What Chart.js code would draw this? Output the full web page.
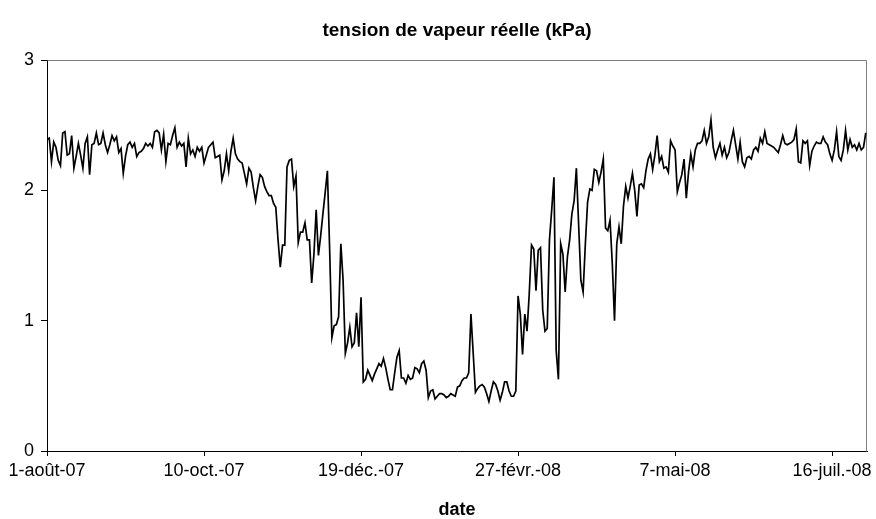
<!DOCTYPE html>
<html>
<head>
<meta charset="utf-8">
<script src="https://cdn.jsdelivr.net/npm/chart.js@4/dist/chart.umd.min.js"></script>
<style>
  html, body { margin: 0; padding: 0; background: #ffffff; }
  #wrap { width: 876px; height: 519px; }
</style>
</head>
<body>
<div id="wrap"><canvas id="c" width="876" height="519"></canvas></div>
<script>
// Daily actual vapour pressure (kPa), 1 Aug 2007 - 31 Jul 2008, one array per month
const aug07 = [2.39,2.40,2.22,2.37,2.33,2.23,2.19,2.44,2.45,2.27,2.28,2.42,2.17,2.26,2.36,2.27,2.17,2.36,2.41,2.12,2.35,2.36,2.44,2.35,2.36,2.44,2.35,2.29,2.35,2.42,2.38];
const sep07 = [2.41,2.29,2.32,2.13,2.26,2.35,2.37,2.33,2.36,2.26,2.29,2.30,2.32,2.36,2.34,2.36,2.33,2.45,2.46,2.44,2.31,2.43,2.22,2.36,2.35,2.42,2.48,2.33,2.37,2.34];
const oct07 = [2.36,2.18,2.40,2.28,2.31,2.26,2.33,2.30,2.33,2.21,2.27,2.33,2.35,2.37,2.25,2.26,2.27,2.08,2.15,2.28,2.15,2.30,2.40,2.28,2.24,2.22,2.21,2.13,2.05,2.17,2.14];
const nov07 = [2.02,1.92,2.03,2.12,2.10,2.03,1.99,1.96,1.96,1.90,1.87,1.62,1.41,1.58,1.58,2.18,2.23,2.24,2.03,2.11,1.60,1.68,1.68,1.75,1.62,1.62,1.29,1.51,1.85,1.50];
const dec07 = [1.65,1.82,1.98,2.15,1.55,0.87,0.96,0.97,1.03,1.59,1.31,0.75,0.83,0.95,0.80,0.83,1.06,0.80,1.18,0.53,0.55,0.62,0.58,0.54,0.59,0.63,0.67,0.65,0.71,0.64,0.55];
const jan08 = [0.47,0.47,0.60,0.72,0.77,0.56,0.56,0.52,0.58,0.55,0.56,0.64,0.63,0.60,0.67,0.69,0.62,0.41,0.46,0.47,0.40,0.42,0.44,0.44,0.43,0.41,0.42,0.44,0.43,0.42,0.49];
const feb08 = [0.50,0.54,0.56,0.56,0.60,1.05,0.75,0.45,0.48,0.50,0.51,0.49,0.44,0.38,0.46,0.53,0.51,0.46,0.39,0.45,0.53,0.53,0.46,0.42,0.42,0.46,1.19,1.05,0.74];
const mar08 = [1.05,0.92,1.21,1.58,1.55,1.23,1.54,1.56,1.08,0.92,0.94,1.62,1.85,2.10,0.77,0.55,1.59,1.51,1.22,1.49,1.62,1.82,1.92,2.17,1.74,1.31,1.22,1.59,1.91,2.01,2.00];
const apr08 = [2.16,2.15,2.06,2.14,2.24,1.71,1.69,1.77,1.44,1.00,1.59,1.72,1.59,1.88,2.03,1.94,2.03,2.13,2.00,1.80,2.04,2.05,2.02,2.15,2.24,2.28,2.16,2.27,2.42,2.22];
const may08 = [2.26,2.17,2.18,2.14,2.38,2.34,2.31,1.99,2.06,2.12,2.24,1.94,2.14,2.28,2.18,2.31,2.36,2.36,2.38,2.46,2.36,2.41,2.54,2.33,2.25,2.31,2.36,2.27,2.33,2.25,2.29];
const jun08 = [2.38,2.46,2.35,2.24,2.37,2.22,2.18,2.25,2.26,2.24,2.31,2.33,2.30,2.40,2.36,2.45,2.36,2.35,2.34,2.33,2.31,2.29,2.35,2.42,2.36,2.35,2.36,2.37,2.39,2.47];
const jul08 = [2.22,2.21,2.38,2.36,2.38,2.19,2.30,2.34,2.37,2.36,2.36,2.41,2.37,2.35,2.28,2.23,2.31,2.45,2.26,2.23,2.31,2.46,2.31,2.39,2.33,2.35,2.31,2.36,2.31,2.33,2.44];

// Axis tick labels (days since 1 Aug 2007)
const tickDays = [0, 70, 140, 210, 280, 350];
const tickLabels = ['1-août-07', '10-oct.-07', '19-déc.-07', '27-févr.-08', '7-mai-08', '16-juil.-08'];
const yTicks = [0, 1, 2, 3];

const chartTitle = 'tension de vapeur réelle (kPa)';
const xTitle = 'date';

const values = [].concat(aug07, sep07, oct07, nov07, dec07, jan08, feb08, mar08, apr08, may08, jun08, jul08);
const points = values.map((v, i) => ({ x: i, y: v }));

const FONT = "'Liberation Sans', Arial, Helvetica, sans-serif";

const frame = {
  id: 'frame',
  beforeDatasetsDraw(chart) {
    const { ctx, chartArea: a } = chart;
    ctx.save();
    ctx.strokeStyle = '#808080';
    ctx.lineWidth = 1;
    ctx.beginPath();
    ctx.moveTo(Math.round(a.left) + 0.5, Math.round(a.top) + 0.5);
    ctx.lineTo(Math.round(a.right) - 0.5, Math.round(a.top) + 0.5);
    ctx.lineTo(Math.round(a.right) - 0.5, Math.round(a.bottom) + 0.5);
    ctx.stroke();
    ctx.restore();
  }
};

new Chart(document.getElementById('c'), {
  type: 'line',
  data: {
    datasets: [{
      label: chartTitle,
      data: points,
      borderColor: '#000000',
      borderWidth: 1.7,
      pointRadius: 0,
      tension: 0,
      fill: false
    }]
  },
  options: {
    responsive: false,
    animation: false,
    layout: { padding: { left: 0, right: 7, top: 0, bottom: 0 } },
    plugins: {
      legend: { display: false },
      tooltip: { enabled: false },
      title: {
        display: true,
        text: chartTitle,
        fullSize: false,
        color: '#000',
        font: { family: FONT, size: 19, weight: 'bold', lineHeight: 1.2 },
        padding: { top: 19, bottom: 18.2 }
      }
    },
    scales: {
      x: {
        type: 'linear',
        min: 0,
        max: 365.6,
        afterBuildTicks: (s) => { s.ticks = tickDays.map(v => ({ value: v })); },
        afterFit: (s) => { s.height = 68; },
        grid: { drawOnChartArea: false, drawTicks: true, tickLength: 5, tickColor: '#000', tickWidth: 1, color: '#000' },
        border: { display: true, color: '#000', width: 1 },
        ticks: {
          autoSkip: false, maxRotation: 0, minRotation: 0, padding: 4, color: '#000',
          font: { family: FONT, size: 18 },
          callback: (v) => { const k = tickDays.indexOf(v); return k >= 0 ? tickLabels[k] : ''; }
        },
        title: {
          display: true, text: xTitle, color: '#000',
          font: { family: FONT, size: 18, weight: 'bold', lineHeight: 1 },
          padding: { top: 0, bottom: 0 }
        }
      },
      y: {
        min: 0,
        max: 3,
        afterBuildTicks: (s) => { s.ticks = yTicks.map(v => ({ value: v })); },
        afterFit: (s) => { s.width = 47; },
        grid: { drawOnChartArea: false, drawTicks: true, tickLength: 6, tickColor: '#000', tickWidth: 1, color: '#000' },
        border: { display: true, color: '#000', width: 1 },
        ticks: { padding: 7, color: '#000', font: { family: FONT, size: 18 } }
      }
    }
  },
  plugins: [frame]
});
</script>
</body>
</html>
